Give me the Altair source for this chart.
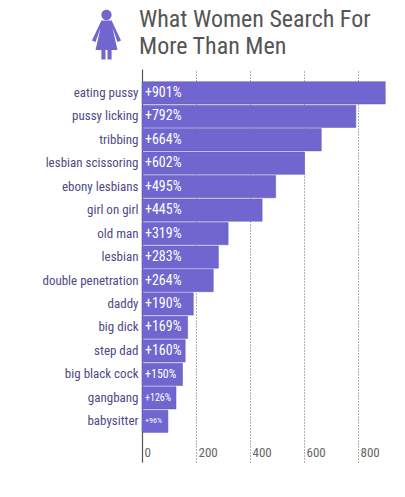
import altair as alt
import pandas as pd

terms = ["eating pussy", "pussy licking", "tribbing", "lesbian scissoring", "ebony lesbians",
         "girl on girl", "old man", "lesbian", "double penetration", "daddy", "big dick",
         "step dad", "big black cock", "gangbang", "babysitter"]
values = [901, 792, 664, 602, 495, 445, 319, 283, 264, 190, 169, 160, 150, 126, 96]
ticks = [0, 200, 400, 600, 800]
title_lines = ["What Women Search For", "More Than Men"]
df = pd.DataFrame({"term": terms, "value": values})
df["label"] = ["+%d%%" % v for v in values]
FONT = "Roboto Condensed, DejaVu Sans Condensed, Lato, sans-serif"
PURPLE = "#7166cf"
ICON = ("M0,-.95A.2,.2 0 1 1 0,-.55A.2,.2 0 1 1 0,-.95Z"
        "M-.2,-.53L.2,-.53L.57,.25L.43,.31L.235,-.235L.43,.63L.2,.63L.2,1L.04,1L.04,.63"
        "L-.04,.63L-.04,1L-.2,1L-.2,.63L-.43,.63L-.235,-.235L-.43,.31L-.57,.25Z")

x = alt.X("value:Q", scale=alt.Scale(domain=[0, 900], nice=False), title=None,
          axis=alt.Axis(values=ticks, grid=True, gridDash=[1, 2], gridColor="#555", gridOpacity=0.9,
                        domain=False, ticks=False, labelAlign="left", labelOffset=2,
                        labelPadding=-16, labelFont=FONT, labelFontSize=13, labelColor="#666666"))
y = alt.Y("term:N", sort=terms, title=None,
          scale=alt.Scale(paddingInner=0.05, paddingOuter=0.9, align=0.3),
          axis=alt.Axis(domain=True, domainColor="#555555", domainWidth=1.2, ticks=False, labelPadding=4,
                        labelFont=FONT, labelFontSize=13, labelColor="#4f4a86", labelLimit=200))
base = alt.Chart(df)
bars = base.mark_bar(color=PURPLE, stroke="#6157bb", strokeWidth=0.5).encode(x=x, y=y)


def labels(low, high, size):
    return (base.transform_filter(alt.datum.value >= low).transform_filter(alt.datum.value < high)
            .mark_text(align="left", dx=3, font=FONT, fontSize=size, color="white")
            .encode(x=alt.value(0), y=y, text="label:N"))


def heading(line, top):
    return (alt.Chart(pd.DataFrame({"heading": [line]}))
            .mark_text(align="left", baseline="top", font=FONT, fontSize=24, color="#555555")
            .encode(x=alt.value(-3), y=alt.value(top), text="heading:N"))


icon = (alt.Chart(pd.DataFrame({"icon": ["woman"]}))
        .mark_point(shape=ICON, filled=True, color=PURPLE, opacity=1, size=2601)
        .encode(x=alt.value(-35.5), y=alt.value(-35)))

chart = alt.layer(bars, labels(160, 1000, 14), labels(140, 160, 12), labels(110, 140, 10), labels(0, 110, 8),
                  icon, heading(title_lines[0], -61), heading(title_lines[1], -34)).properties(
    width=243, height=393,
    padding={"left": 33, "top": 0, "right": 5, "bottom": 5},
).configure_view(stroke=None)
chart.save("out.html", embed_options={"renderer": "svg", "actions": False})
